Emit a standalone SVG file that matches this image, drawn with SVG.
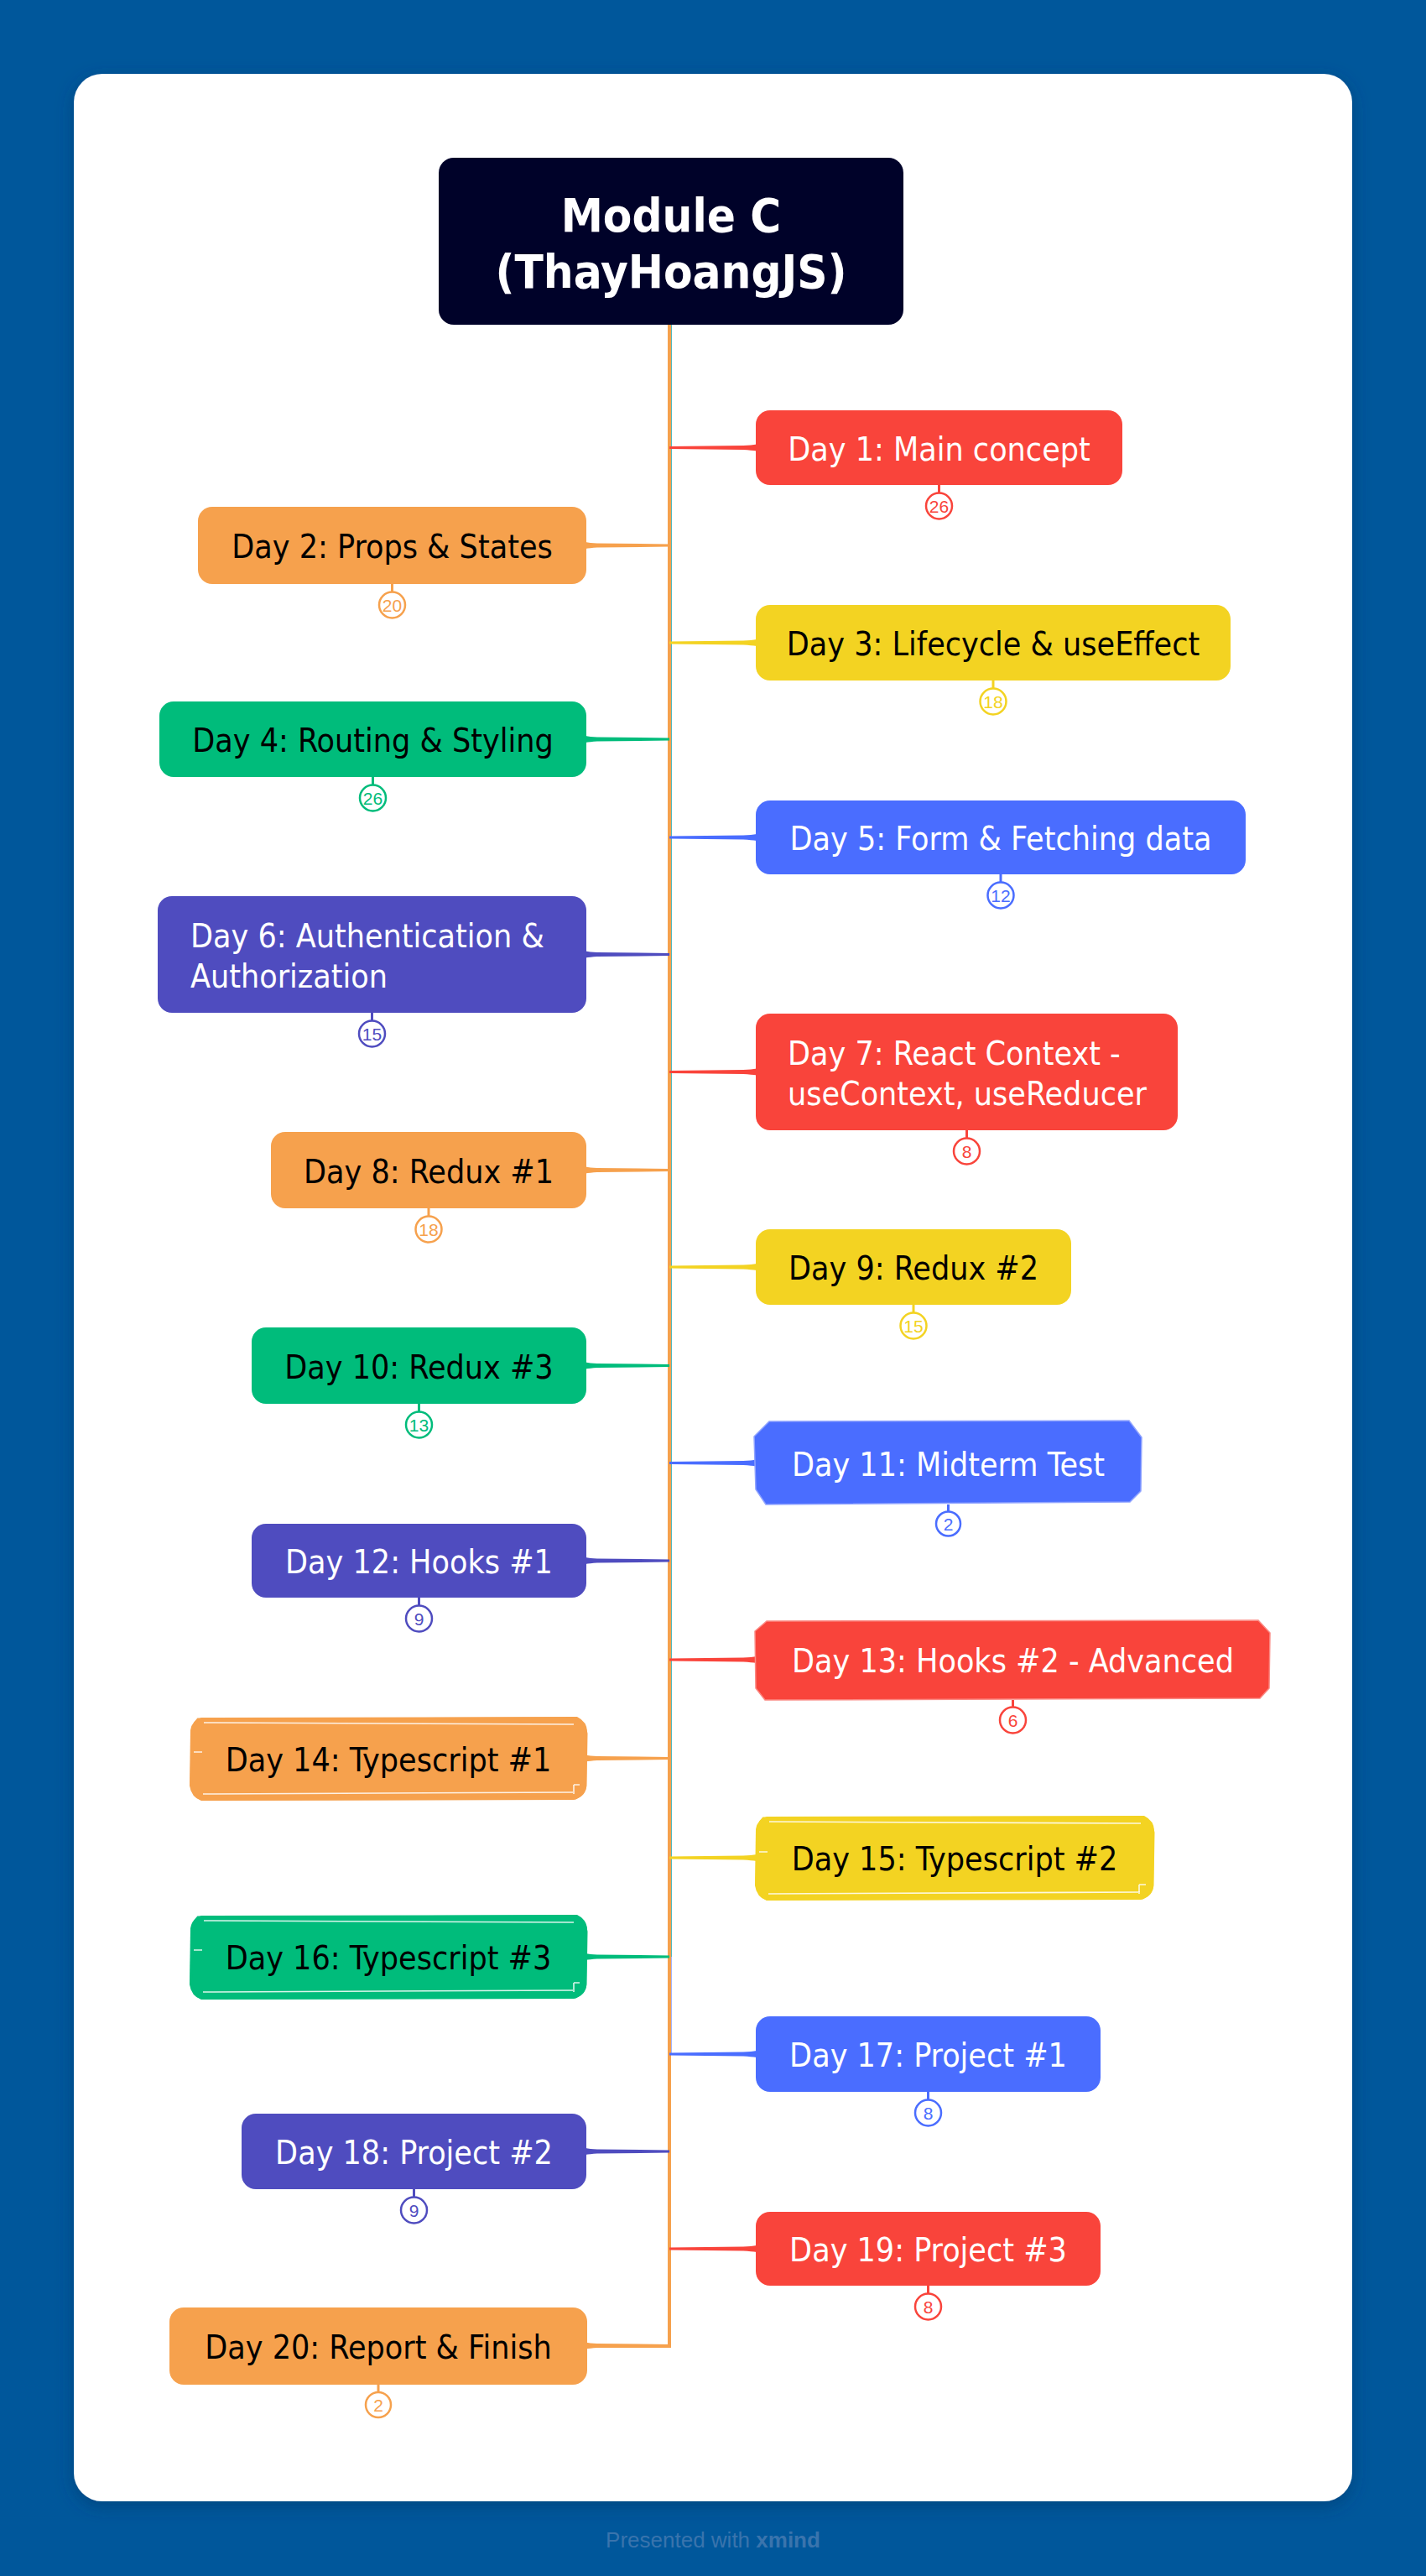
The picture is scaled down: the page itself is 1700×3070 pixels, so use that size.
<svg xmlns="http://www.w3.org/2000/svg" width="1700" height="3070" viewBox="0 0 1700 3070">
  <defs>
    <filter id="cardShadow" x="-5%" y="-5%" width="110%" height="110%">
      <feGaussianBlur in="SourceAlpha" stdDeviation="10"/>
      <feOffset dx="0" dy="6" result="b"/>
      <feFlood flood-color="#00386a" flood-opacity="0.55"/>
      <feComposite in2="b" operator="in"/>
      <feMerge><feMergeNode/><feMergeNode in="SourceGraphic"/></feMerge>
    </filter>
  </defs>
  <style>
    .lbl { font-family: 'DejaVu Sans Condensed', 'DejaVu Sans', sans-serif; font-stretch: condensed; font-size: 39px; }
    .root-lbl { font-family: 'DejaVu Sans Condensed', 'DejaVu Sans', sans-serif; font-stretch: condensed; font-size: 56px; font-weight: bold; fill: #ffffff; }
    .light { fill: #ffffff; }
    .dark { fill: #000000; }
    .num { font-family: 'Liberation Sans', Arial, sans-serif; font-size: 21px; text-anchor: middle; }
    .badge { fill: #ffffff; stroke-width: 2.5; }
    .stub { stroke-width: 3; fill: none; }
    .spine { fill: none; stroke-width: 3; }
    .red { fill: #f9443b; }
    .orange { fill: #f6a14d; }
    .yellow { fill: #f3d322; }
    .green { fill: #00bc7b; }
    .blue { fill: #4a6dff; }
    .indigo { fill: #4f4cbf; }
    .s-red { stroke: #f9443b; }
    .s-orange { stroke: #f6a14d; }
    .s-yellow { stroke: #f3d322; }
    .s-green { stroke: #00bc7b; }
    .s-blue { stroke: #4a6dff; }
    .s-indigo { stroke: #4f4cbf; }
    .hl { fill: none; stroke: #ffffff; stroke-width: 1.6; stroke-opacity: 0.85; }
    .rough { fill: none; stroke-width: 3; }
  </style>

  <!-- page background and card -->
  <rect x="0" y="0" width="1700" height="3070" fill="#00579b"/>
  <rect x="88" y="88" width="1524" height="2893" rx="34" fill="#ffffff" filter="url(#cardShadow)"/>

  <!-- branch connectors: elbow from the root down the spine, then across to each topic -->
  <g id="connectors">
    <g class="spine">
      <path class="s-red" d="M798.5 387 V2680"/>
      <path class="s-blue" d="M799 387 V2448"/>
      <path class="s-green" d="M799 387 V2332"/>
      <path class="s-orange" d="M798 387 V2796" stroke-width="4"/>
    </g>
    <!-- tapered horizontal arms (thin at the spine, wider at the topic) -->
    <path class="red" d="M798 532 L886 531 Q896 530.5 902 529.5 V537.5 Q896 536.5 886 536 L798 535 Z"/>
    <path class="orange" d="M798 648.5 L712 647.5 Q703 647 698 646 V654 Q703 653 712 652.5 L798 651.5 Z"/>
    <path class="yellow" d="M798 764.5 L886 763.5 Q896 763 902 762 V770 Q896 769 886 768.5 L798 767.5 Z"/>
    <path class="green" d="M798 879.5 L712 878.5 Q703 878 698 877 V885 Q703 884 712 883.5 L798 882.5 Z"/>
    <path class="blue" d="M798 996.5 L886 995.5 Q896 995 902 994 V1002 Q896 1001 886 1000.5 L798 999.5 Z"/>
    <path class="indigo" d="M798 1136 L712 1135 Q703 1134.5 698 1133.5 V1141.5 Q703 1140.5 712 1140 L798 1139 Z"/>
    <path class="red" d="M798 1276 L886 1275 Q896 1274.5 902 1273.5 V1281.5 Q896 1280.5 886 1280 L798 1279 Z"/>
    <path class="orange" d="M798 1393 L712 1392 Q703 1391.5 698 1390.5 V1398.5 Q703 1397.5 712 1397 L798 1396 Z"/>
    <path class="yellow" d="M798 1508.5 L886 1507.5 Q896 1507 902 1506 V1514 Q896 1513 886 1512.5 L798 1511.5 Z"/>
    <path class="green" d="M798 1626 L712 1625 Q703 1624.5 698 1623.5 V1631.5 Q703 1630.5 712 1630 L798 1629 Z"/>
    <path class="blue" d="M798 1742 L886 1741 Q896 1740.5 902 1739.5 V1747.5 Q896 1746.5 886 1746 L798 1745 Z"/>
    <path class="indigo" d="M798 1858.5 L712 1857.5 Q703 1857 698 1856 V1864 Q703 1863 712 1862.5 L798 1861.5 Z"/>
    <path class="red" d="M798 1976.5 L886 1975.5 Q896 1975 902 1974 V1982 Q896 1981 886 1980.5 L798 1979.5 Z"/>
    <path class="orange" d="M798 2094 L712 2093 Q703 2092.5 698 2091.5 V2099.5 Q703 2098.5 712 2098 L798 2097 Z"/>
    <path class="yellow" d="M798 2212.5 L886 2211.5 Q896 2211 902 2210 V2218 Q896 2217 886 2216.5 L798 2215.5 Z"/>
    <path class="green" d="M798 2330.5 L712 2329.5 Q703 2329 698 2328 V2336 Q703 2335 712 2334.5 L798 2333.5 Z"/>
    <path class="blue" d="M798 2446.5 L886 2445.5 Q896 2445 902 2444 V2452 Q896 2451 886 2450.5 L798 2449.5 Z"/>
    <path class="indigo" d="M798 2562.5 L712 2561.5 Q703 2561 698 2560 V2568 Q703 2567 712 2566.5 L798 2565.5 Z"/>
    <path class="red" d="M798 2678.5 L886 2677.5 Q896 2677 902 2676 V2684 Q896 2683 886 2682.5 L798 2681.5 Z"/>
    <path class="orange" d="M800 2794 L712 2793 Q703 2792.5 698 2791.5 V2799.5 Q703 2798.5 712 2798 L800 2798 Z"/>
  </g>

  <!-- central topic -->
  <g id="root">
    <rect x="523" y="188" width="554" height="199" rx="18" fill="#000229"/>
    <text class="root-lbl" x="800" y="276" text-anchor="middle">Module C</text>
    <text class="root-lbl" x="800" y="343" text-anchor="middle">(ThayHoangJS)</text>
  </g>

  <g id="day-01">
    <rect class="red" x="901" y="489" width="437" height="89" rx="17"/>
    <text class="lbl light" x="1119.5" y="549" text-anchor="middle">Day 1: Main concept</text>
    <line class="stub s-red" x1="1119.5" y1="578" x2="1119.5" y2="588"/>
    <circle class="badge s-red" cx="1119.5" cy="603" r="15.5"/>
    <text class="num red" x="1119.5" y="610.5">26</text>
  </g>

  <g id="day-02">
    <rect class="orange" x="236" y="604" width="463" height="92" rx="17"/>
    <text class="lbl dark" x="467.5" y="665" text-anchor="middle">Day 2: Props &amp; States</text>
    <line class="stub s-orange" x1="467.5" y1="696" x2="467.5" y2="706"/>
    <circle class="badge s-orange" cx="467.5" cy="721" r="15.5"/>
    <text class="num orange" x="467.5" y="728.5">20</text>
  </g>

  <g id="day-03">
    <rect class="yellow" x="901" y="721" width="566" height="90" rx="17"/>
    <text class="lbl dark" x="1184" y="781" text-anchor="middle">Day 3: Lifecycle &amp; useEffect</text>
    <line class="stub s-yellow" x1="1184" y1="811" x2="1184" y2="821"/>
    <circle class="badge s-yellow" cx="1184" cy="836" r="15.5"/>
    <text class="num yellow" x="1184" y="843.5">18</text>
  </g>

  <g id="day-04">
    <rect class="green" x="190" y="836" width="509" height="90" rx="17"/>
    <text class="lbl dark" x="444.5" y="896" text-anchor="middle">Day 4: Routing &amp; Styling</text>
    <line class="stub s-green" x1="444.5" y1="926" x2="444.5" y2="936"/>
    <circle class="badge s-green" cx="444.5" cy="951" r="15.5"/>
    <text class="num green" x="444.5" y="958.5">26</text>
  </g>

  <g id="day-05">
    <rect class="blue" x="901" y="954" width="584" height="88" rx="17"/>
    <text class="lbl light" x="1193" y="1013" text-anchor="middle">Day 5: Form &amp; Fetching data</text>
    <line class="stub s-blue" x1="1193" y1="1042" x2="1193" y2="1052"/>
    <circle class="badge s-blue" cx="1193" cy="1067" r="15.5"/>
    <text class="num blue" x="1193" y="1074.5">12</text>
  </g>

  <g id="day-06">
    <rect class="indigo" x="188" y="1068" width="511" height="139" rx="17"/>
    <text class="lbl light" x="227" y="1129">Day 6: Authentication &amp;</text>
    <text class="lbl light" x="227" y="1177">Authorization</text>
    <line class="stub s-indigo" x1="443.5" y1="1207" x2="443.5" y2="1217"/>
    <circle class="badge s-indigo" cx="443.5" cy="1232" r="15.5"/>
    <text class="num indigo" x="443.5" y="1239.5">15</text>
  </g>

  <g id="day-07">
    <rect class="red" x="901" y="1208" width="503" height="139" rx="17"/>
    <text class="lbl light" x="939" y="1269">Day 7: React Context -</text>
    <text class="lbl light" x="939" y="1317">useContext, useReducer</text>
    <line class="stub s-red" x1="1152.5" y1="1347" x2="1152.5" y2="1357"/>
    <circle class="badge s-red" cx="1152.5" cy="1372" r="15.5"/>
    <text class="num red" x="1152.5" y="1379.5">8</text>
  </g>

  <g id="day-08">
    <rect class="orange" x="323" y="1349" width="376" height="91" rx="17"/>
    <text class="lbl dark" x="511" y="1410" text-anchor="middle">Day 8: Redux #1</text>
    <line class="stub s-orange" x1="511" y1="1440" x2="511" y2="1450"/>
    <circle class="badge s-orange" cx="511" cy="1465" r="15.5"/>
    <text class="num orange" x="511" y="1472.5">18</text>
  </g>

  <g id="day-09">
    <rect class="yellow" x="901" y="1465" width="376" height="90" rx="17"/>
    <text class="lbl dark" x="1089" y="1525" text-anchor="middle">Day 9: Redux #2</text>
    <line class="stub s-yellow" x1="1089" y1="1555" x2="1089" y2="1565"/>
    <circle class="badge s-yellow" cx="1089" cy="1580" r="15.5"/>
    <text class="num yellow" x="1089" y="1587.5">15</text>
  </g>

  <g id="day-10">
    <rect class="green" x="300" y="1582" width="399" height="91" rx="17"/>
    <text class="lbl dark" x="499.5" y="1643" text-anchor="middle">Day 10: Redux #3</text>
    <line class="stub s-green" x1="499.5" y1="1673" x2="499.5" y2="1683"/>
    <circle class="badge s-green" cx="499.5" cy="1698" r="15.5"/>
    <text class="num green" x="499.5" y="1705.5">13</text>
  </g>

  <g id="day-11">
    <path class="blue" d="M917 1694 L1346 1693 L1361 1713 L1360 1777 L1347 1790 L913 1793 L901 1775 L899 1712 Z" stroke="#8fa3ff" stroke-width="1.5"/>
    <text class="lbl light" x="1130.5" y="1759" text-anchor="middle">Day 11: Midterm Test</text>
    <line class="stub s-blue" x1="1130.5" y1="1793" x2="1130.5" y2="1802"/>
    <circle class="badge s-blue" cx="1130.5" cy="1816" r="14.5"/>
    <text class="num blue" x="1130.5" y="1823.5">2</text>
  </g>

  <g id="day-12">
    <rect class="indigo" x="300" y="1816" width="399" height="88" rx="17"/>
    <text class="lbl light" x="499.5" y="1875" text-anchor="middle">Day 12: Hooks #1</text>
    <line class="stub s-indigo" x1="499.5" y1="1904" x2="499.5" y2="1914"/>
    <circle class="badge s-indigo" cx="499.5" cy="1929" r="15.5"/>
    <text class="num indigo" x="499.5" y="1936.5">9</text>
  </g>

  <g id="day-13">
    <path class="red" d="M914 1932 L1500 1931 L1514 1946 L1513 2012 L1502 2024 L912 2026 L901 2012 L900 1944 Z" stroke="#fb8a84" stroke-width="1.5"/>
    <text class="lbl light" x="1207.5" y="1993" text-anchor="middle">Day 13: Hooks #2 - Advanced</text>
    <line class="stub s-red" x1="1207.5" y1="2026" x2="1207.5" y2="2035"/>
    <circle class="badge s-red" cx="1207.5" cy="2050" r="15.5"/>
    <text class="num red" x="1207.5" y="2057.5">6</text>
  </g>

  <g id="day-14">
    <path class="orange" d="M240 2047 L688 2046 Q700 2052 700 2064 L699 2129 Q698 2141 684 2145 L240 2146 Q228 2142 226 2128 L227 2062 Q229 2050 240 2047 Z"/>
    <path class="rough s-orange" d="M236 2049 Q230 2055 229 2066 L228 2128 Q231 2141 240 2144 L686 2143 Q697 2138 698 2128 L699 2066 Q697 2052 686 2048 Z"/>
    <path class="hl" d="M243 2053 L684 2055 M242 2138 L683 2136 M684 2127 L684 2138 M684 2127 L691 2127 M231 2088 L241 2088"/>
    <text class="lbl dark" x="463" y="2111" text-anchor="middle">Day 14: Typescript #1</text>
  </g>

  <g id="day-15">
    <path class="yellow" d="M914 2165 L1364 2164 Q1376 2170 1376 2182 L1375 2248 Q1374 2260 1360 2264 L914 2265 Q902 2261 900 2247 L901 2180 Q903 2168 914 2165 Z"/>
    <path class="rough s-yellow" d="M910 2167 Q904 2173 903 2184 L902 2247 Q905 2260 914 2263 L1362 2262 Q1373 2257 1374 2247 L1375 2184 Q1373 2170 1362 2166 Z"/>
    <path class="hl" d="M917 2171 L1360 2173 M916 2257 L1359 2255 M1358 2246 L1358 2257 M1358 2246 L1366 2246 M905 2207 L915 2207"/>
    <text class="lbl dark" x="1138" y="2229" text-anchor="middle">Day 15: Typescript #2</text>
  </g>

  <g id="day-16">
    <path class="green" d="M240 2283 L688 2282 Q700 2288 700 2300 L699 2366 Q698 2378 684 2382 L240 2383 Q228 2379 226 2365 L227 2298 Q229 2286 240 2283 Z"/>
    <path class="rough s-green" d="M236 2285 Q230 2291 229 2302 L228 2365 Q231 2378 240 2381 L686 2380 Q697 2375 698 2365 L699 2302 Q697 2288 686 2284 Z"/>
    <path class="hl" d="M243 2289 L684 2291 M242 2374 L683 2372 M684 2363 L684 2374 M684 2363 L691 2363 M231 2324 L241 2324"/>
    <text class="lbl dark" x="463" y="2347" text-anchor="middle">Day 16: Typescript #3</text>
  </g>

  <g id="day-17">
    <rect class="blue" x="901" y="2403" width="411" height="90" rx="17"/>
    <text class="lbl light" x="1106.5" y="2463" text-anchor="middle">Day 17: Project #1</text>
    <line class="stub s-blue" x1="1106.5" y1="2493" x2="1106.5" y2="2503"/>
    <circle class="badge s-blue" cx="1106.5" cy="2518" r="15.5"/>
    <text class="num blue" x="1106.5" y="2525.5">8</text>
  </g>

  <g id="day-18">
    <rect class="indigo" x="288" y="2519" width="411" height="90" rx="17"/>
    <text class="lbl light" x="493.5" y="2579" text-anchor="middle">Day 18: Project #2</text>
    <line class="stub s-indigo" x1="493.5" y1="2609" x2="493.5" y2="2619"/>
    <circle class="badge s-indigo" cx="493.5" cy="2634" r="15.5"/>
    <text class="num indigo" x="493.5" y="2641.5">9</text>
  </g>

  <g id="day-19">
    <rect class="red" x="901" y="2636" width="411" height="88" rx="17"/>
    <text class="lbl light" x="1106.5" y="2695" text-anchor="middle">Day 19: Project #3</text>
    <line class="stub s-red" x1="1106.5" y1="2724" x2="1106.5" y2="2734"/>
    <circle class="badge s-red" cx="1106.5" cy="2749" r="15.5"/>
    <text class="num red" x="1106.5" y="2756.5">8</text>
  </g>

  <g id="day-20">
    <rect class="orange" x="202" y="2750" width="498" height="92" rx="17"/>
    <text class="lbl dark" x="451" y="2811" text-anchor="middle">Day 20: Report &amp; Finish</text>
    <line class="stub s-orange" x1="451" y1="2842" x2="451" y2="2852"/>
    <circle class="badge s-orange" cx="451" cy="2866" r="15"/>
    <text class="num orange" x="451" y="2873.5">2</text>
  </g>

  <!-- footer credit -->
  <text x="850" y="3036" text-anchor="middle" font-family="'Liberation Sans', Arial, sans-serif" font-size="26" fill="#3a74ad">Presented with <tspan font-weight="bold">xmind</tspan></text>
</svg>
